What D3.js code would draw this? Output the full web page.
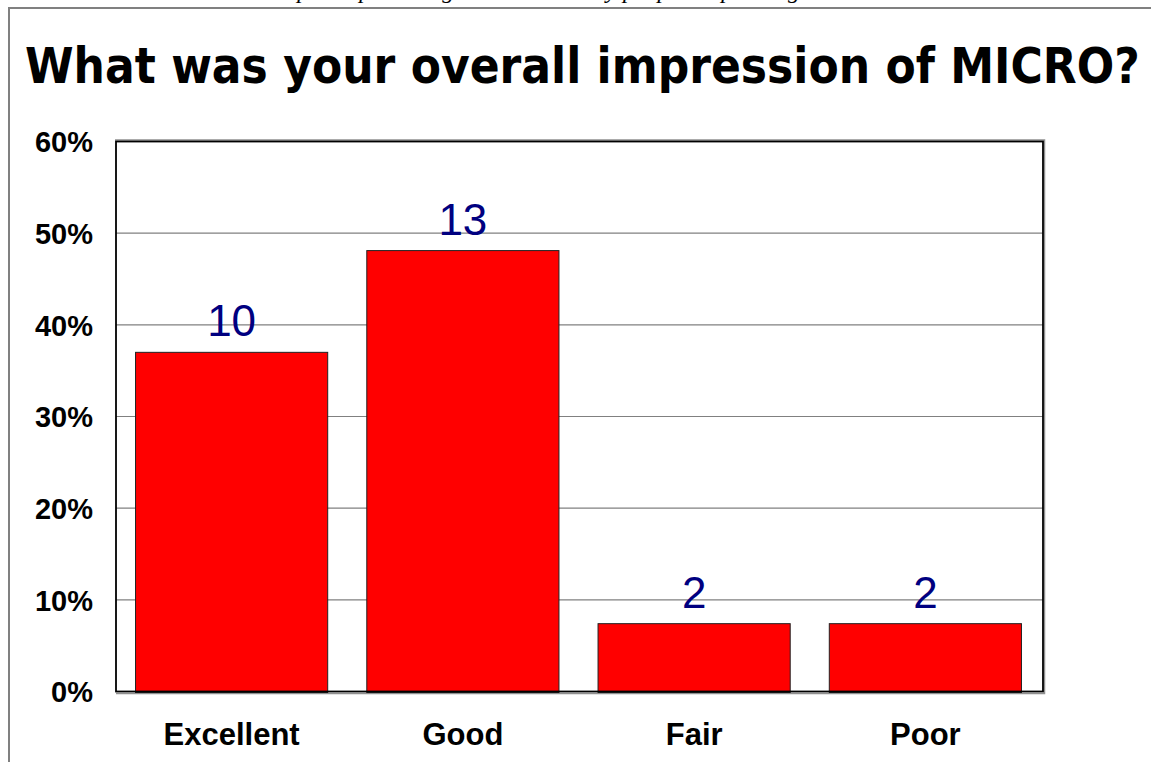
<!DOCTYPE html>
<html>
<head>
<meta charset="utf-8">
<script src="https://cdn.jsdelivr.net/npm/d3@7"></script>
<style>
  html, body { margin: 0; padding: 0; background: #ffffff; }
  svg { display: block; }
</style>
</head>
<body>
<svg id="chart" width="1151" height="762"></svg>
<script>
// ---- data ----
const categories = ["Excellent", "Good", "Fair", "Poor"];
const counts = [10, 13, 2, 2];                 // labels shown above bars
const shares = [0.370, 0.481, 0.074, 0.074];   // bar heights (share of respondents)
const yTicks = [0, 0.1, 0.2, 0.3, 0.4, 0.5, 0.6];
const titleText = "What was your overall impression of MICRO?";
const noteText = "Response percentages normalized by people responding";

// ---- layout ----
const svg = d3.select("#chart");
const plot = { left: 116, right: 1043, top: 141.5, bottom: 691.5 };

const x = d3.scaleBand()
  .domain(categories)
  .range([plot.left, plot.right - 2])
  .paddingInner(0.169)
  .paddingOuter(0.0845);

const y = d3.scaleLinear()
  .domain([0, 0.6])
  .range([plot.bottom, plot.top]);

// clipped italic note at very top (only descenders visible, as in the source)
svg.append("text")
  .attr("x", 800).attr("y", -2)
  .attr("text-anchor", "end")
  .attr("font-family", "Liberation Serif, Times New Roman, serif")
  .attr("font-style", "italic")
  .attr("font-size", 24)
  .attr("fill", "#000")
  .text(noteText);

// outer frame (top and left edges)
svg.append("path")
  .attr("d", "M9,762 V8 H1151")
  .attr("fill", "none")
  .attr("stroke", "#808080")
  .attr("stroke-width", 2);

// title: measured, then scaled horizontally to span x 25..1140
const title = svg.append("text")
  .attr("x", 0).attr("y", 0)
  .attr("font-family", "DejaVu Sans, Verdana, sans-serif")
  .attr("font-weight", "bold")
  .attr("font-size", 50)
  .attr("fill", "#000")
  .text(titleText);
const tw = title.node().getComputedTextLength();
title.attr("transform", `translate(25,83) scale(${1115 / tw},1)`);

// plot frame shadow (gray)
svg.append("path")
  .attr("d", `M${plot.left - 1},${plot.top - 1.5} H${plot.right + 1.5} V${plot.bottom + 2} H${plot.left}`)
  .attr("fill", "none")
  .attr("stroke", "#909090")
  .attr("stroke-width", 1.5);

// gridlines
svg.append("g").selectAll("line")
  .data(yTicks.filter(d => d > 0 && d < 0.6))
  .join("line")
  .attr("x1", plot.left).attr("x2", plot.right)
  .attr("y1", d => y(d)).attr("y2", d => y(d))
  .attr("stroke", "#808080")
  .attr("stroke-width", 1.2);

// bars
svg.append("g").selectAll("rect")
  .data(categories)
  .join("rect")
  .attr("x", d => x(d))
  .attr("width", x.bandwidth())
  .attr("y", (d, i) => y(shares[i]))
  .attr("height", (d, i) => y(0) - y(shares[i]) + 1)
  .attr("fill", "#ff0000")
  .attr("stroke", "#222")
  .attr("stroke-width", 1);

// plot frame
svg.append("rect")
  .attr("x", plot.left).attr("y", plot.top)
  .attr("width", plot.right - plot.left)
  .attr("height", plot.bottom - plot.top)
  .attr("fill", "none")
  .attr("stroke", "#000")
  .attr("stroke-width", 1.8);

// value labels
svg.append("g").selectAll("text")
  .data(categories)
  .join("text")
  .attr("x", d => x(d) + x.bandwidth() / 2)
  .attr("y", (d, i) => y(shares[i]) - 16)
  .attr("text-anchor", "middle")
  .attr("font-family", "Liberation Sans, Arial, sans-serif")
  .attr("font-size", 44)
  .attr("fill", "#000080")
  .text((d, i) => counts[i]);

// y axis labels
const yAxis = d3.axisLeft(y).tickValues(yTicks).tickFormat(d3.format(".0%")).tickSize(0).tickPadding(23);
const gy = svg.append("g").attr("transform", `translate(${plot.left},0)`).call(yAxis);
gy.select(".domain").remove();
gy.selectAll("text")
  .attr("font-family", "Liberation Sans, Arial, sans-serif")
  .attr("font-weight", "bold")
  .attr("font-size", 29)
  .attr("fill", "#000")
  .attr("dy", "0.36em");

// x axis labels
const xAxis = d3.axisBottom(x).tickSize(0).tickPadding(0);
const gx = svg.append("g").attr("transform", `translate(0,745)`).call(xAxis);
gx.select(".domain").remove();
gx.selectAll("text")
  .attr("font-family", "Liberation Sans, Arial, sans-serif")
  .attr("font-weight", "bold")
  .attr("font-size", 31)
  .attr("fill", "#000")
  .attr("dy", 0);
</script>
</body>
</html>
